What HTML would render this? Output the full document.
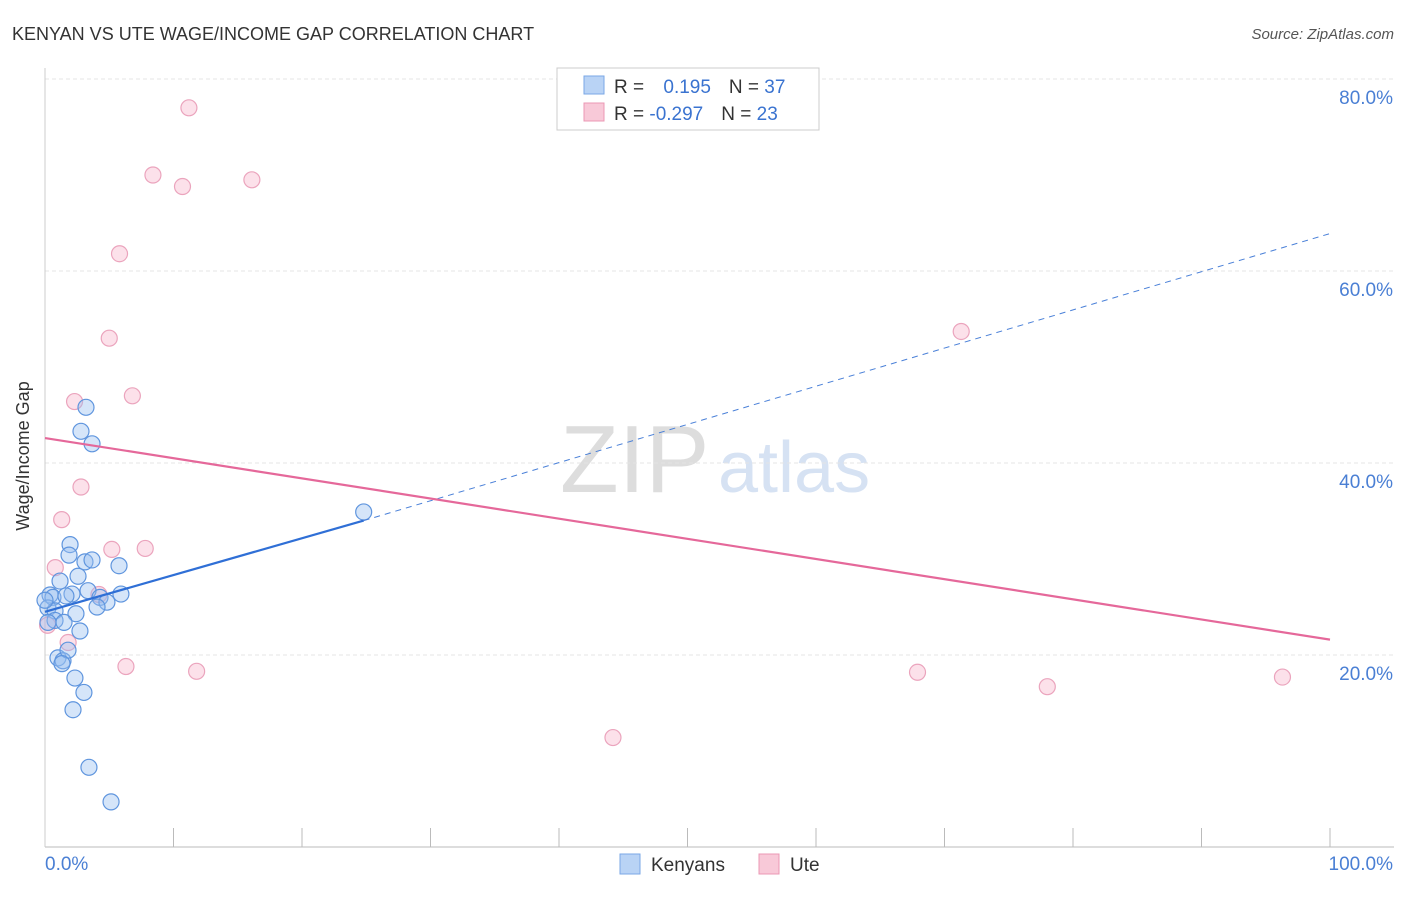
<!DOCTYPE html>
<html><head><meta charset="utf-8"><style>
body{margin:0;background:#fff;font-family:"Liberation Sans",sans-serif}
svg text{font-family:"Liberation Sans",sans-serif}
</style></head><body>
<svg id="c" width="1406" height="892">
<text x="12" y="40" font-size="18" fill="#333">KENYAN VS UTE WAGE/INCOME GAP CORRELATION CHART</text>
<text x="1394" y="39" font-size="15" fill="#555" font-style="italic" text-anchor="end">Source: ZipAtlas.com</text>
<text x="560" y="492" font-size="96" fill="#ddd" font-family="Liberation Serif">ZIP</text>
<text x="718" y="492" font-size="72" fill="#d6e2f3">atlas</text>
<g id="grid"></g><g id="marks"></g>
<text x="29" y="456" font-size="18" fill="#333" text-anchor="middle" transform="rotate(-90 29 456)">Wage/Income Gap</text>
<g>
<rect x="557" y="68" width="262" height="62" fill="#fff" stroke="#ccc"/>
<rect x="584" y="76" width="20" height="18" fill="#b9d3f5" stroke="#7aa7e6"/>
<rect x="584" y="103" width="20" height="18" fill="#f8c9d8" stroke="#eb98b4"/>
<text x="614" y="93" font-size="19" fill="#333">R = <tspan fill="#3a73d0" dx="14">0.195</tspan><tspan dx="18" fill="#333">N = </tspan><tspan fill="#3a73d0">37</tspan></text>
<text x="614" y="120" font-size="19" fill="#333">R = <tspan fill="#3a73d0">-0.297</tspan><tspan dx="18" fill="#333">N = </tspan><tspan fill="#3a73d0">23</tspan></text>
</g>
<g>
<rect x="620" y="854" width="20" height="20" fill="#b9d3f5" stroke="#7aa7e6"/>
<text x="651" y="871" font-size="19" fill="#333">Kenyans</text>
<rect x="759" y="854" width="20" height="20" fill="#f8c9d8" stroke="#eb98b4"/>
<text x="790" y="871" font-size="19" fill="#333">Ute</text>
</g>
</svg>
<script>
const yTicks=[20,40,60,80];
const yTickLabels=["20.0%","40.0%","60.0%","80.0%"];
const kenX=[3.19,2.8,3.66,1.95,1.87,3.11,3.66,5.76,2.57,1.17,0.39,0.62,2.1,1.63,3.35,4.28,4.82,5.91,4.05,0.23,0.78,2.41,0.78,1.48,2.72,0.23,1.01,1.4,1.79,1.32,2.33,3.03,2.18,3.42,5.14,24.8,0];
const kenY=[45.8,43.3,42.0,31.5,30.4,29.7,29.9,29.3,28.2,27.7,26.25,26.0,26.35,26.15,26.7,26.0,25.5,26.35,25.0,24.9,24.6,24.3,23.6,23.4,22.5,23.4,19.7,19.4,20.5,19.1,17.6,16.1,14.3,8.3,4.7,34.9,25.7];
const uteX=[11.2,8.4,10.7,16.1,5.8,5.0,6.8,2.3,2.8,1.3,0.8,5.2,7.8,4.2,1.8,6.3,11.8,0.2,44.2,67.9,78.0,96.3,71.3];
const uteY=[77.0,70.0,68.8,69.5,61.8,53.0,47.0,46.4,37.5,34.1,29.1,31.0,31.1,26.3,21.3,18.8,18.3,23.1,11.4,18.2,16.7,17.7,53.7];
const kenTrend=[0,24.5,24.8,34.0,100,63.9];
const uteTrend=[0,42.6,100,21.6];
const X=v=>45+v*12.85, Y=v=>847-v*9.6;
const ns="http://www.w3.org/2000/svg";
const g=document.getElementById('grid'), m=document.getElementById('marks');
function el(p,t,a){const e=document.createElementNS(ns,t);for(const k in a)e.setAttribute(k,a[k]);p.appendChild(e);return e;}
yTicks.forEach((t,i)=>{
 const l=el(g,'line',{x1:45,x2:1394,y1:Y(t),y2:Y(t),stroke:'#e4e4e4','stroke-dasharray':'4,3'});
 
 
 const tx=el(g,'text',{x:1393,y:Y(t)+25,'font-size':19,fill:'#4a7fd4','text-anchor':'end'});tx.textContent=yTickLabels[i];
 
 
});
const ax=el(g,'line',{x1:45,x2:1394,y1:847,y2:847,stroke:'#bbb'});


const ay=el(g,'line',{x1:45,x2:45,y1:68,y2:847,stroke:'#ccc'});


for(let i=1;i<=10;i++){const t=el(g,'line',{x1:X(i*10),x2:X(i*10),y1:828,y2:847,stroke:'#bbb'});
 
 }
[[0,"0.0%",'start',45],[100,"100.0%",'end',1393]].forEach(a=>{const t=el(g,'text',{x:a[3],y:870,'font-size':19,fill:'#4a7fd4','text-anchor':a[2]});t.textContent=a[1];
 
 });
uteX.forEach((x,i)=>{const c=el(m,'circle',{cx:X(x),cy:Y(uteY[i]),r:8,fill:'rgba(245,170,195,0.35)',stroke:'#eba4bd','stroke-width':1.2});
 
 });
kenX.forEach((x,i)=>{const c=el(m,'circle',{cx:X(x),cy:Y(kenY[i]),r:8,fill:'rgba(150,190,240,0.4)',stroke:'#5f95de','stroke-width':1.2});
 
 });
const l1=el(m,'line',{x1:X(kenTrend[0]),y1:Y(kenTrend[1]),x2:X(kenTrend[2]),y2:Y(kenTrend[3]),stroke:'#2f6fd6','stroke-width':2.2});


const l2=el(m,'line',{x1:X(kenTrend[2]),y1:Y(kenTrend[3]),x2:X(kenTrend[4]),y2:Y(kenTrend[5]),stroke:'#4a80d8','stroke-width':1,'stroke-dasharray':'6,5'});


const l3=el(m,'line',{x1:X(uteTrend[0]),y1:Y(uteTrend[1]),x2:X(uteTrend[2]),y2:Y(uteTrend[3]),stroke:'#e5689a','stroke-width':2.2});


</script>
</body></html>
